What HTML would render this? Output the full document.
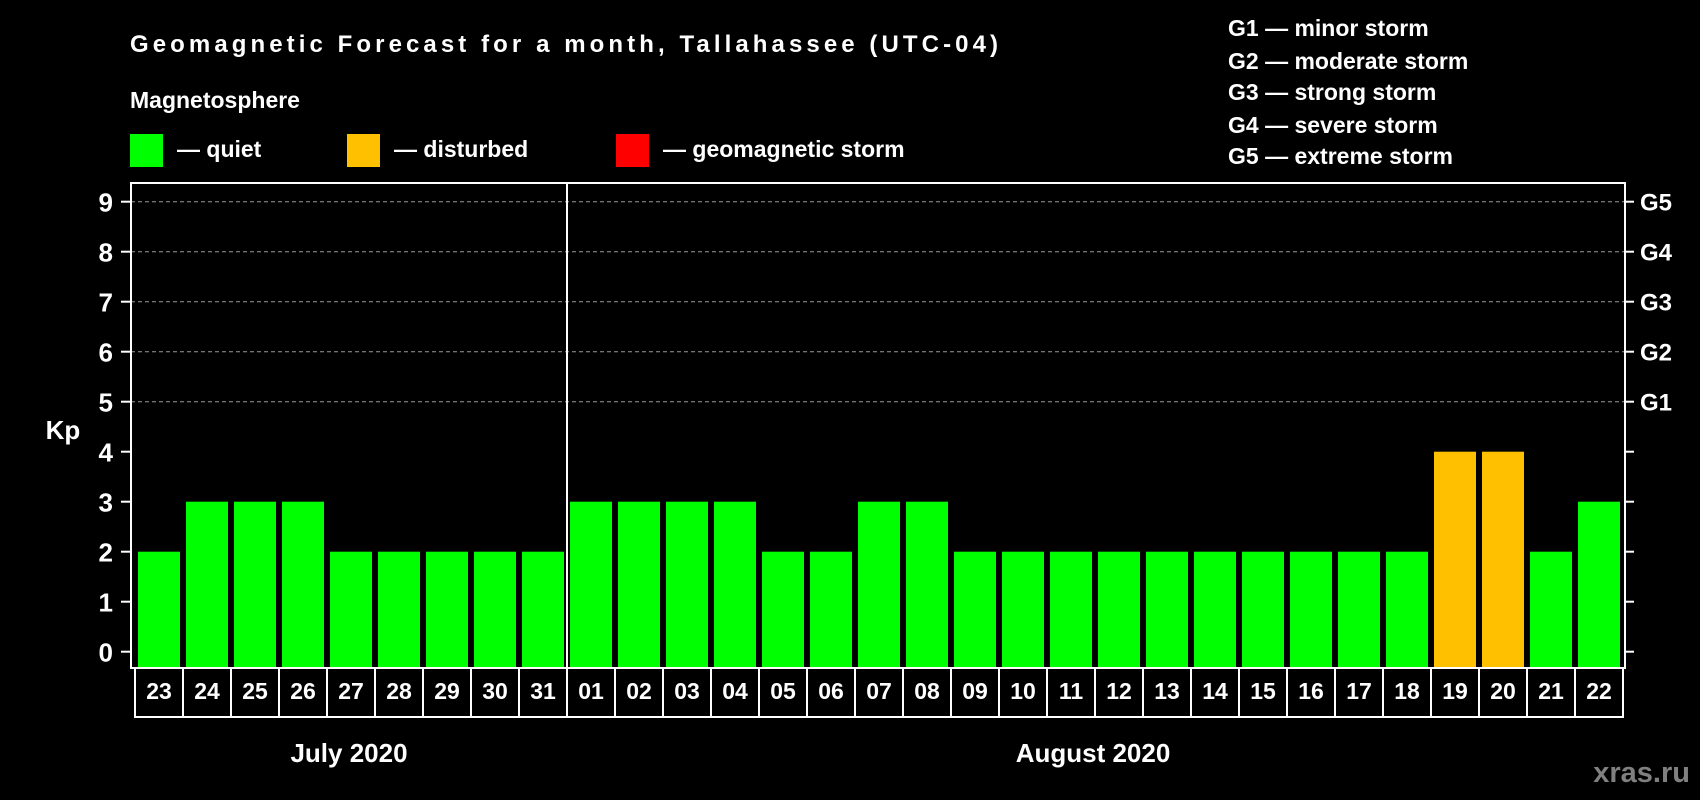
<!DOCTYPE html>
<html><head><meta charset="utf-8"><style>
html,body{margin:0;padding:0;background:#000;}
svg{display:block;font-family:"Liberation Sans",sans-serif;font-weight:bold;}
</style></head><body>
<svg id="chart" width="1700" height="800" viewBox="0 0 1700 800">
<rect x="0" y="0" width="1700" height="800" fill="#000"/>
<text x="130" y="52" fill="#fff" font-size="24" textLength="868">Geomagnetic Forecast for a month, Tallahassee (UTC-04)</text>
<text x="130" y="108" fill="#fff" font-size="23">Magnetosphere</text>
<g><rect x="130" y="134" width="33" height="33" fill="#00ff00"/><text x="177" y="157" fill="#fff" font-size="23">— quiet</text></g>
<g><rect x="347" y="134" width="33" height="33" fill="#ffc000"/><text x="394" y="157" fill="#fff" font-size="23">— disturbed</text></g>
<g><rect x="616" y="134" width="33" height="33" fill="#ff0000"/><text x="663" y="157" fill="#fff" font-size="23">— geomagnetic storm</text></g>
<g font-size="23" fill="#fff">
<text x="1228" y="36">G1 — minor storm</text>
<text x="1228" y="69">G2 — moderate storm</text>
<text x="1228" y="100">G3 — strong storm</text>
<text x="1228" y="133">G4 — severe storm</text>
<text x="1228" y="164">G5 — extreme storm</text>
</g>
<text x="63" y="439" fill="#fff" font-size="26" text-anchor="middle">Kp</text>
<text x="349" y="762" fill="#fff" font-size="26" text-anchor="middle">July 2020</text>
<text x="1093" y="762" fill="#fff" font-size="26" text-anchor="middle">August 2020</text>
<text x="1690" y="782" fill="#808080" font-size="29" text-anchor="end">xras.ru</text>
<g id="grid"></g><g id="bars"></g><g id="axes"></g><g id="dates"></g>
</svg>
<script>
const days = ["23","24","25","26","27","28","29","30","31","01","02","03","04","05","06","07","08","09","10","11","12","13","14","15","16","17","18","19","20","21","22"];
const kpValues = [2,3,3,3,2,2,2,2,2,3,3,3,3,2,2,3,3,2,2,2,2,2,2,2,2,2,2,4,4,2,3];
const yTicks = [0,1,2,3,4,5,6,7,8,9];
const gLabels = ["G1","G2","G3","G4","G5"];
const gLevels = [5,6,7,8,9];
const monthSplit = 9;

const NS="http://www.w3.org/2000/svg";
const L=131,R=1625,T=183,B=668,Y0=651.7,PU=50,PITCH=48,BW=42,X0=138;
const y=v=>Y0-v*PU;
const x=i=>X0+i*PITCH;
function mk(t,a,p){const e=document.createElementNS(NS,t);for(const k in a)e.setAttribute(k,a[k]);p.appendChild(e);return e;}
const grid=document.getElementById('grid'),bars=document.getElementById('bars'),axes=document.getElementById('axes'),dates=document.getElementById('dates');
gLevels.forEach(v=>{
  const l=mk('line',{x1:L,x2:R,y1:y(v),y2:y(v),stroke:'#999','stroke-width':1,'stroke-dasharray':'4,3'},grid);
  
  
});
kpValues.forEach((v,i)=>{
  const c=v>=5?'#ff0000':(v>=4?'#ffc000':'#00ff00');
  const r=mk('rect',{x:x(i),y:y(v),width:BW,height:B-y(v),fill:c},bars);
  
  
});
const frame=mk('rect',{x:L,y:T,width:R-L,height:B-T,fill:'none',stroke:'#fff','stroke-width':2},axes);


yTicks.forEach(v=>{
  const t=mk('line',{x1:L-10,x2:L,y1:y(v),y2:y(v),stroke:'#fff','stroke-width':2},axes);
  
  
  const t2=mk('line',{x1:R,x2:R+9,y1:y(v),y2:y(v),stroke:'#fff','stroke-width':2},axes);
  
  
  const tx=mk('text',{x:113,y:y(v)+10,fill:'#fff','font-size':26,'text-anchor':'end'},axes);
  tx.textContent=v;
  
  
});
gLevels.forEach((v,i)=>{
  const tx=mk('text',{x:1640,y:y(v)+9,fill:'#fff','font-size':24},axes);
  tx.textContent=gLabels[i];
  
  
});
const sx=(x(monthSplit-1)+BW+x(monthSplit))/2;
const sep=mk('line',{x1:sx,x2:sx,y1:T,y2:717,stroke:'#fff','stroke-width':2},axes);


const dbL=135,dbR=1623,dbT=668,dbB=717;
const box=mk('rect',{x:dbL,y:dbT,width:dbR-dbL,height:dbB-dbT,fill:'none',stroke:'#fff','stroke-width':2},dates);


days.forEach((d,i)=>{
  if(i>0){
    const dl=mk('line',{x1:x(i)-3,x2:x(i)-3,y1:dbT,y2:dbB,stroke:'#fff','stroke-width':2},dates);
    
    
  }
  const t=mk('text',{x:x(i)+BW/2,y:699,fill:'#fff','font-size':23,'text-anchor':'middle'},dates);
  t.textContent=d;
  
  
});
</script>
</body></html>
